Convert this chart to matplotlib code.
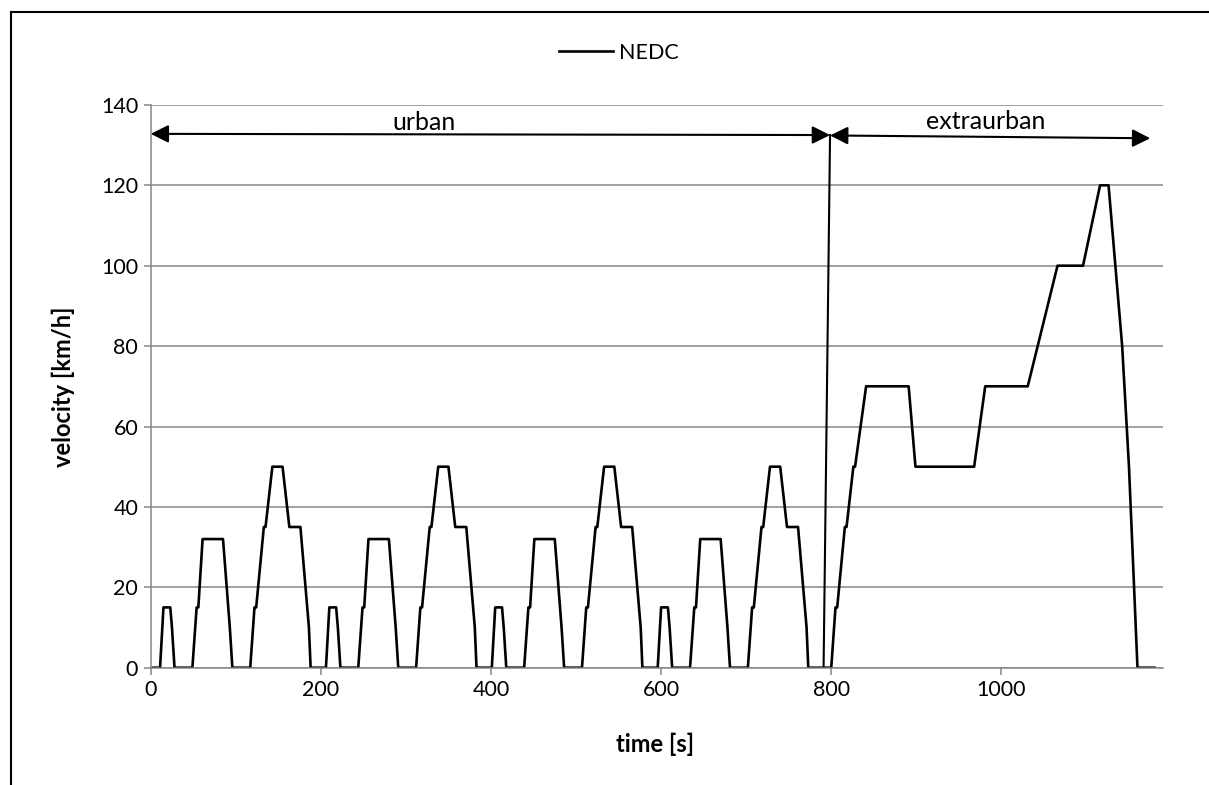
import matplotlib
matplotlib.use("Agg")
import matplotlib.pyplot as plt
from matplotlib.lines import Line2D

plt.rcParams['font.family'] = ['Lato', 'DejaVu Sans']

# NEDC speed profile: time [s], velocity [km/h]
time_s = [
    0, 11, 15, 23, 25, 28, 49, 54, 56, 61, 85, 93, 96, 117, 122, 124, 133, 135, 143, 155, 163, 176, 186, 188,
    195, 206, 210, 218, 220, 223, 244, 249, 251, 256, 280, 288, 291, 312, 317, 319, 328, 330, 338, 350, 358, 371, 381, 383,
    390, 401, 405, 413, 415, 418, 439, 444, 446, 451, 475, 483, 486, 507, 512, 514, 523, 525, 533, 545, 553, 566, 576, 578,
    585, 596, 600, 608, 610, 613, 634, 639, 641, 646, 670, 678, 681, 702, 707, 709, 718, 720, 728, 740, 748, 761, 771, 773,
    780, 800, 805, 807, 816, 818, 826, 828, 841, 891, 899, 968, 981, 1031, 1066, 1096, 1116, 1126, 1142, 1150, 1160, 1180,
]
velocity = [
    0, 0, 15, 15, 10, 0, 0, 15, 15, 32, 32, 10, 0, 0, 15, 15, 35, 35, 50, 50, 35, 35, 10, 0,
    0, 0, 15, 15, 10, 0, 0, 15, 15, 32, 32, 10, 0, 0, 15, 15, 35, 35, 50, 50, 35, 35, 10, 0,
    0, 0, 15, 15, 10, 0, 0, 15, 15, 32, 32, 10, 0, 0, 15, 15, 35, 35, 50, 50, 35, 35, 10, 0,
    0, 0, 15, 15, 10, 0, 0, 15, 15, 32, 32, 10, 0, 0, 15, 15, 35, 35, 50, 50, 35, 35, 10, 0,
    0, 0, 15, 15, 35, 35, 50, 50, 70, 70, 50, 50, 70, 70, 100, 100, 120, 120, 80, 50, 0, 0,
]

# phase markers (hand-drawn in the original)
sep_x = [791, 798.6]
sep_y = [0, 132.5]
urban_span = (0, 798.6, 132.8, 132.5)
extra_span = (798.6, 1175, 132.4, 131.7)

grid_col = "#868686"

fig = plt.figure(figsize=(12.09, 7.85), dpi=100)
ax = fig.add_axes([150.7 / 1209, 1 - 667.7 / 785, (1163 - 150.7) / 1209, 562.8 / 785])

ax.plot(time_s, velocity, color="black", lw=1.9, label="NEDC", solid_joinstyle="round")
ax.plot(sep_x, sep_y, color="black", lw=1.5)

for x0, x1, y0, y1 in [urban_span, extra_span]:
    ax.annotate("", xy=(x1, y1), xytext=(x0, y0),
                arrowprops=dict(arrowstyle="<|-|>,head_length=0.4,head_width=0.2",
                                mutation_scale=27, color="black", lw=1.5,
                                shrinkA=0, shrinkB=0))

ax.text(321, 133.7, "urban", fontsize=18, ha="center", va="baseline")
ax.text(982, 133.9, "extraurban", fontsize=18, ha="center", va="baseline")

ax.set_xlim(0, 1190)
ax.set_ylim(0, 140)
ax.set_xticks([0, 200, 400, 600, 800, 1000])
ax.set_yticks(range(0, 141, 20))
ax.yaxis.grid(True, color=grid_col, lw=1.1)
ax.set_axisbelow(True)

for s in ["top", "right"]:
    ax.spines[s].set_visible(False)
for s in ["left", "bottom"]:
    ax.spines[s].set_color(grid_col)
    ax.spines[s].set_linewidth(1.1)
ax.tick_params(axis="both", direction="out", length=5, width=1.1, color=grid_col,
               labelsize=15.5, pad=4)

ax.set_xlabel("time [s]", fontsize=17, fontweight="bold")
ax.set_ylabel("velocity [km/h]", fontsize=17, fontweight="bold")
ax.xaxis.set_label_coords(0.498, -0.115)
ax.yaxis.set_label_coords(-0.075, 0.5)

fig.legend(loc="center", bbox_to_anchor=(619 / 1209, 1 - 52.7 / 785), frameon=False,
           fontsize=15.5, handlelength=2.5, handletextpad=0.3)

# outer frame (only left and top edges visible in the crop)
fig.add_artist(Line2D([10.5 / 1209, 10.5 / 1209], [0, 1 - 12 / 785], color="black", lw=1.5))
fig.add_artist(Line2D([10.5 / 1209, 1], [1 - 12 / 785, 1 - 12 / 785], color="black", lw=1.5))

fig.savefig("out.png", dpi=100)
